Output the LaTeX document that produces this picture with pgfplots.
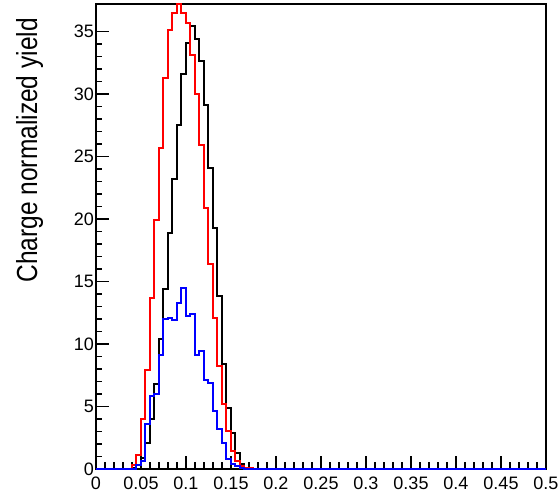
\documentclass[border=0pt]{standalone}
\usepackage{fontspec}
\setmainfont{Liberation Sans}
\newfontfamily\titlefont[FakeStretch=0.845]{Liberation Sans}
\usepackage{pgfplots}
\pgfplotsset{compat=1.18}

% Charge-normalised yield histograms (bin width 0.005), left bin edges
\pgfplotstableread{
x y
0 0
0.04 0.1
0.045 0.3
0.05 0.9
0.055 2.1
0.06 4.0
0.065 6.8
0.07 10.4
0.075 14.4
0.08 18.9
0.085 23.2
0.09 27.5
0.095 31.6
0.1 34.1
0.105 35.4
0.11 34.4
0.115 32.6
0.12 29.1
0.125 24.1
0.13 19.3
0.135 13.8
0.14 8.4
0.145 4.9
0.15 2.9
0.155 1.3
0.16 0.4
0.165 0.1
0.17 0
0.5 0
}\histblack

\pgfplotstableread{
x y
0 0
0.04 0.35
0.045 1.15
0.05 4.0
0.055 7.9
0.06 13.7
0.065 19.9
0.07 25.7
0.075 31.3
0.08 35.1
0.085 36.5
0.09 37.2
0.095 36.5
0.1 35.7
0.105 33.1
0.11 30.0
0.115 25.9
0.12 20.9
0.125 16.4
0.13 12.1
0.135 8.2
0.14 5.2
0.145 3.0
0.15 1.4
0.155 0.6
0.16 0.25
0.165 0.1
0.17 0.1
0.175 0
0.5 0
}\histred

\pgfplotstableread{
x y
0 0
0.045 0.3
0.05 0.65
0.055 3.6
0.06 5.8
0.065 6.0
0.07 9.1
0.075 12.0
0.08 12.1
0.085 11.9
0.09 13.3
0.095 14.5
0.1 12.2
0.105 12.4
0.11 9.1
0.115 9.4
0.12 7.1
0.125 6.9
0.13 4.6
0.135 3.2
0.14 2.1
0.145 0.76
0.15 0.4
0.155 0.2
0.16 0.1
0.165 0
0.5 0
}\histblue

\begin{document}
\begin{tikzpicture}
\path[use as bounding box] (-96pt,-27pt) rectangle (462pt,469pt);
\begin{axis}[
  scale only axis,
  width=450pt, height=465pt,
  xmin=0, xmax=0.5, ymin=0, ymax=37.2,
  clip=false,
  axis line style={line width=2pt},
  xtick={0,0.05,...,0.5},
  ytick={0,5,...,35},
  minor x tick num=4,
  minor y tick num=4,
  xtick pos=left, ytick pos=left,
  tick align=inside,
  major tick length=13pt,
  minor tick length=6.5pt,
  every tick/.style={black, line width=1.5pt},
  scaled x ticks=false,
  /pgf/number format/assume math mode=true,
  xticklabel style={/pgf/number format/fixed, /pgf/number format/precision=2,
    yshift=-4pt},
  ticklabel style={font=\fontsize{18}{21}\selectfont},
  yticklabel style={inner xsep=2pt},
  ylabel={Charge normalized yield},
  ylabel style={at={(rel axis cs:-0.1311,0.9699)}, anchor=base east,
    inner sep=0pt, font=\titlefont\fontsize{29}{33}\selectfont},
  every axis plot/.append style={const plot, line width=2pt, line join=miter},
]
\addplot[black] table {\histblack};
\addplot[red] table {\histred};
\addplot[blue] table {\histblue};
\end{axis}
\end{tikzpicture}
\end{document}
